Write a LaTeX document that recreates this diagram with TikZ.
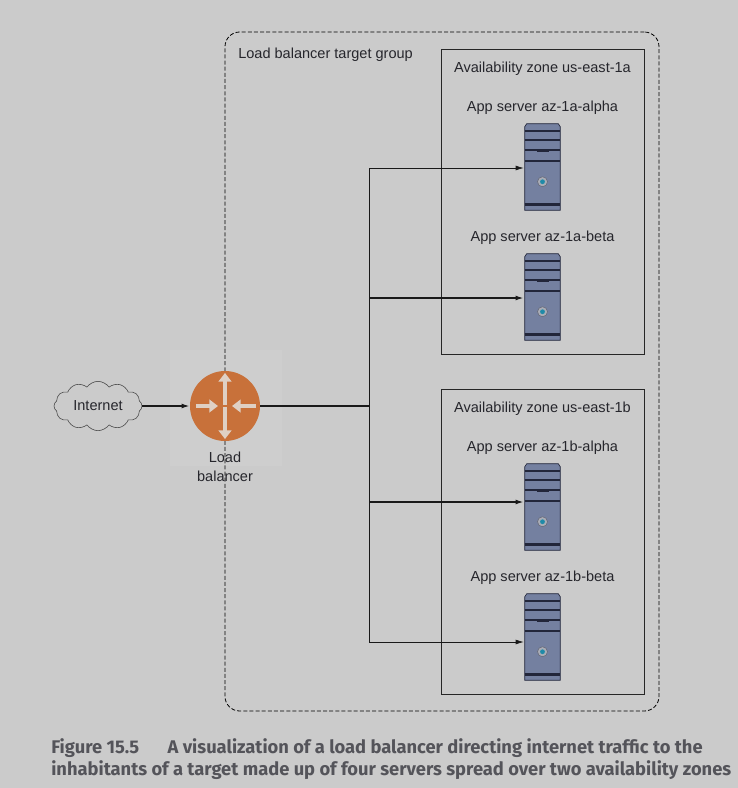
\documentclass[tikz,border=0pt]{standalone}
\usepackage{fontspec}
\setmainfont{Liberation Sans}
\newfontfamily\capfont{Fira Sans}
\usepackage{tikz}
\usetikzlibrary{calc,arrows.meta,shapes.symbols}
\definecolor{pagebg}{HTML}{CBCBCB}
\definecolor{patchbg}{HTML}{CECECE}
\definecolor{lborange}{HTML}{C8713A}
\definecolor{lbarrow}{HTML}{DFD0C4}
\definecolor{srvblue}{HTML}{7480A0}
\definecolor{srvdark}{HTML}{22263A}
\definecolor{srvdisc}{HTML}{1F8AA8}
\definecolor{textgray}{HTML}{26262C}
\definecolor{capgray}{HTML}{54545A}
\tikzset{
  lbl/.style={font=\fontsize{10.9}{13}\selectfont, text=textgray, inner sep=0pt},
  zonebox/.style={draw=black!85, line width=.6pt},
  link/.style={draw=black!90, line width=.5pt, -{Latex[length=6pt,width=3.6pt]}},
  fatlink/.style={link, line width=1.1pt},
  lbarr/.style={draw=lbarrow, line width=3.2pt, -{Triangle[length=6.5pt,width=9.5pt]}},
  srvnode/.style={minimum width=27.75pt, minimum height=64.5pt, inner sep=0pt}
}
% one tower, drawn over its node
\newcommand{\tower}[1]{
  \fill[srvblue] ($(#1.north west)+(1,3)$) -- ($(#1.north west)+(3,0)$) -- ($(#1.north east)+(-3,0)$) -- ($(#1.north east)+(-1,3)$) -- ($(#1.south east)+(-1,0)$) -- ($(#1.south west)+(1,0)$) -- cycle;
  \draw[srvdark, line width=.5pt] ($(#1.north west)+(1,3)$) -- ($(#1.north west)+(3,0)$) -- ($(#1.north east)+(-3,0)$) -- ($(#1.north east)+(-1,3)$) -- ($(#1.south east)+(-1,0)$) -- ($(#1.south west)+(1,0)$) -- cycle;
  \foreach \yy/\ww in {7/1.2,16/1.2,26/1.2,37/1.3,81/2.2}
    \draw[srvdark, line width=\ww pt] ($(#1.north west)+(1,\yy)$) -- ($(#1.north east)+(-1,\yy)$);
  \fill[srvdark] ($(#1.north)+(-6,25)$) rectangle ($(#1.north)+(6,28)$);
  \fill[lightgray!70!srvblue] ($(#1.north)+(0,58)$) circle (5);
  \draw[srvdark!70, line width=.4pt] ($(#1.north)+(0,58)$) circle (5);
  \fill[srvdisc] ($(#1.north)+(0,58)$) circle (2.4);
}
\begin{document}
\begin{tikzpicture}[x=.75pt,y=-.75pt]
    \useasboundingbox (0,0) rectangle (738,788);
    \fill[pagebg] (0,0) rectangle (738,788);
    \fill[patchbg] (170,350) rectangle (282,466);

    % target group and zones
    \node (Group) at (442,371.5) [draw=black, dash pattern=on 3pt off 1.6pt, line width=.6pt, rounded corners=11pt, minimum width=325.5pt, minimum height=509.25pt, inner sep=0pt] {};
    \node (GroupL) at (238,55) [lbl, anchor=west] {Load balancer target group};
    \node (ZoneA) at (542.5,201.5) [zonebox, minimum width=152.25pt, minimum height=228.75pt, inner sep=0pt] {};
    \node (ZoneB) at (542.5,541.5) [zonebox, minimum width=152.25pt, minimum height=228.75pt, inner sep=0pt] {};
    \node (ZoneAL) at (542.5,69) [lbl] {Availability zone us-east-1a};
    \node (ZoneBL) at (542.5,409) [lbl] {Availability zone us-east-1b};

    % servers
    \node (SrvAa) at (542.5,167) [srvnode] {};
    \node (SrvAb) at (542.5,297) [srvnode] {};
    \node (SrvBa) at (542.5,507) [srvnode] {};
    \node (SrvBb) at (542.5,637) [srvnode] {};
    \tower{SrvAa} \tower{SrvAb} \tower{SrvBa} \tower{SrvBb}
    \node (SrvAaL) at (542.5,108) [lbl] {App server az-1a-alpha};
    \node (SrvAbL) at (542.5,238) [lbl] {App server az-1a-beta};
    \node (SrvBaL) at (542.5,448) [lbl] {App server az-1b-alpha};
    \node (SrvBbL) at (542.5,578) [lbl] {App server az-1b-beta};

    % internet and balancer
    \node (Net) at (98,406) [cloud, cloud puffs=12, cloud puff arc=110, aspect=2.1, draw=black!70, line width=.45pt, minimum width=66pt, minimum height=37pt, inner sep=0pt, lbl] {Internet};
    \node (LB) at (225,406) [circle, fill=lborange, minimum size=52.5pt, inner sep=0pt] {};
    \node (Top) at (225,372) [inner sep=0pt] {};
    \node (Bot) at (225,440) [inner sep=0pt] {};
    \node (Wst) at (195,406) [inner sep=0pt] {};
    \node (Est) at (257,406) [inner sep=0pt] {};
    \node (Ctr) at (225,406) [inner sep=0pt] {};
    \draw[lbarr] (Ctr) to (Top);
    \draw[lbarr] (Ctr) to (Bot);
    \draw[lbarr] (Wst) to ($(Ctr)+(-7,0)$);
    \draw[lbarr] (Est) to ($(Ctr)+(7,0)$);
    \node (LBL) at (225,467) [lbl, align=center, font=\fontsize{10.9}{14.2}\selectfont] {Load\\balancer};

    % connectors
    \coordinate (Hub) at (369,406);
    \coordinate (JAa) at (369,168);
    \coordinate (JAb) at (369,298);
    \coordinate (JBa) at (369,502);
    \coordinate (JBb) at (369,642);
    \draw[fatlink] (Net.east) to (LB.west);
    \draw[draw=black!90, line width=1.1pt] (LB.east) to (Hub);
    \draw[draw=black!90, line width=.6pt] (JAa) to (JBb);
    \draw[link] (JAa) to (SrvAa.west |- JAa);
    \draw[fatlink] (JAb) to (SrvAb.west |- JAb);
    \draw[fatlink] (JBa) to (SrvBa.west |- JBa);
    \draw[link] (JBb) to (SrvBb.west |- JBb);

    % caption
    \node (Cap) at (51,759) [anchor=west, inner sep=0pt, align=left, text=capgray, font=\capfont\bfseries\fontsize{13.75}{17}\selectfont] {Figure 15.5\hspace{1.55em}A visualization of a load balancer directing internet traffic to the\\inhabitants of a target made up of four servers spread over two availability zones};
\end{tikzpicture}
\end{document}
